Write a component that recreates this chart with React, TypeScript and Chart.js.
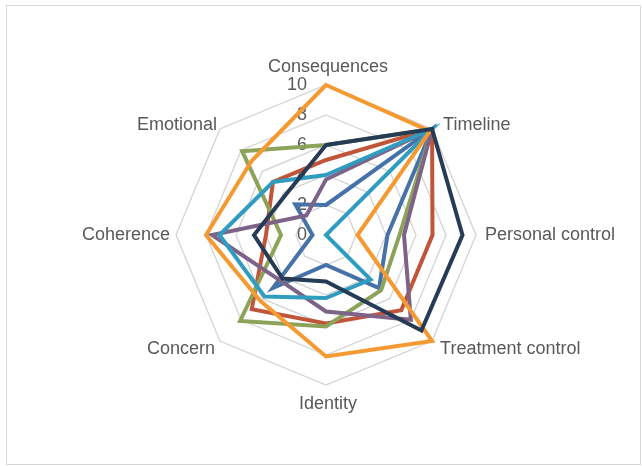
import React, { useEffect, useRef } from "react";
import { Chart, registerables } from "chart.js";

Chart.register(...registerables);

const categories = [
  "Consequences",
  "Timeline",
  "Personal control",
  "Treatment control",
  "Identity",
  "Concern",
  "Coherence",
  "Emotional",
];
const tickValues = [0, 2, 4, 6, 8, 10];

const seriesNames = ["Series 1", "Series 2", "Series 3", "Series 4", "Series 5", "Series 6", "Series 7"];
const blueValues = [2.0, 10, 4.1, 5.0, 2.0, 5.0, 0.9, 2.9];
const redValues = [5.0, 10, 7.1, 7.1, 5.9, 7.0, 4.0, 5.0];
const greenValues = [6.0, 10, 4.9, 5.2, 6.1, 8.1, 3.0, 7.9];
const purpleValues = [3.7, 10, 5.2, 8.0, 5.1, 4.3, 7.6, 1.85];
const tealValues = [4.0, 10, 0, 4.2, 4.2, 5.8, 7.1, 5.0];
const orangeValues = [10, 9.8, 2.1, 10, 8.1, 6.2, 8.0, 7.0];
const navyValues = [6.0, 10, 9.1, 9.0, 3.1, 4.1, 4.8, 3.8];

const seriesValues = [blueValues, redValues, greenValues, purpleValues, tealValues, orangeValues, navyValues];
const seriesColors = ["#4672A8", "#C0553A", "#8DA35A", "#7E6389", "#2F9CC0", "#F59A32", "#263B55"];

// label placement relative to each outer vertex: [dx, dy, align]
const labelOffsets: [number, number, CanvasTextAlign][] = [
  [2, -18, "center"],
  [11, -4, "left"],
  [9, 0, "left"],
  [8, 8, "left"],
  [2, 19, "center"],
  [-5, 8, "right"],
  [-6, 0, "right"],
  [-3, -4, "right"],
];

const textPlugin = {
  id: "excelText",
  beforeDatasetsDraw(chart: any) {
    const s = chart.scales.r;
    const ctx = chart.ctx;
    ctx.save();
    ctx.font = '18px "Liberation Sans", Arial, sans-serif';
    ctx.fillStyle = "#595959";
    ctx.textBaseline = "middle";
    ctx.textAlign = "right";
    tickValues.forEach((v) => {
      const p = s.getPointPositionForValue(0, v);
      ctx.fillText(String(v), s.xCenter - 19, p.y);
    });
    categories.forEach((label, i) => {
      const p = s.getPointPosition(i, s.drawingArea);
      const [dx, dy, align] = labelOffsets[i];
      ctx.textAlign = align;
      ctx.fillText(label, p.x + dx, p.y + dy);
    });
    ctx.restore();
  },
};

export default function App() {
  const canvasRef = useRef<HTMLCanvasElement | null>(null);

  useEffect(() => {
    document.body.style.margin = "0";
    const canvas = canvasRef.current;
    if (!canvas) return;
    const chart = new Chart(canvas, {
      type: "radar",
      data: {
        labels: categories,
        datasets: seriesValues.map((vals, i) => ({
          label: seriesNames[i],
          data: vals,
          borderColor: seriesColors[i],
          backgroundColor: seriesColors[i],
          borderWidth: 4,
          fill: false,
          pointRadius: 0,
          pointHoverRadius: 0,
          tension: 0,
          order: seriesValues.length - i,
        })),
      },
      options: {
        responsive: false,
        animation: false,
        devicePixelRatio: 1,
        layout: { padding: { left: 176, right: 166, top: 85, bottom: 81 } },
        plugins: {
          legend: { display: false },
          tooltip: { enabled: false },
        },
        scales: {
          r: {
            min: 0,
            max: 10,
            ticks: { stepSize: 2, display: false },
            pointLabels: { display: false },
            angleLines: { display: false },
            grid: { color: "#d3d3d3", lineWidth: 1.3 },
          },
        },
      },
      plugins: [textPlugin],
    });
    return () => chart.destroy();
  }, []);

  return (
    <div style={{ position: "relative", width: 642, height: 466, background: "#fff" }}>
      <div
        style={{
          position: "absolute",
          left: 6,
          top: 5,
          width: 633,
          height: 458,
          border: "1px solid #d9d9d9",
        }}
      />
      <canvas
        ref={canvasRef}
        width={642}
        height={466}
        style={{ position: "absolute", left: 0, top: 0, width: 642, height: 466 }}
      />
    </div>
  );
}
